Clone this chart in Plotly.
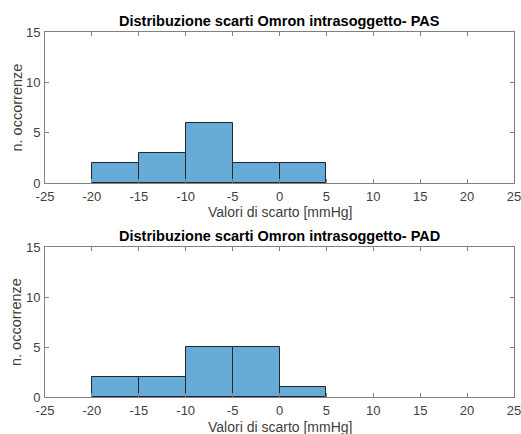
import plotly.graph_objects as go

# Bin edges shared by both histograms (mmHg)
bin_edges = [-20, -15, -10, -5, 0, 5]
# Occurrence counts per bin
pas_counts = [2, 3, 6, 2, 2]
pad_counts = [2, 2, 5, 5, 1]

titles = ["Distribuzione scarti Omron intrasoggetto- PAS",
          "Distribuzione scarti Omron intrasoggetto- PAD"]
x_title = "Valori di scarto [mmHg]"
y_title = "n. occorrenze"
x_ticks = [-25, -20, -15, -10, -5, 0, 5, 10, 15, 20, 25]
x_tick_labels = ["-25", "-20", "-15", "-10", "-5", "0", "5", "10", "15", "20", "25"]
y_ticks = [0, 5, 10, 15]

W, H = 521, 434
FONT = "Liberation Sans, Arial, sans-serif"
BAR_FILL = "rgb(102,170,215)"
AX_COL = "#404040"

centers = [(a + b) / 2 for a, b in zip(bin_edges[:-1], bin_edges[1:])]
widths = [b - a for a, b in zip(bin_edges[:-1], bin_edges[1:])]

# pixel boxes of the two axes: (left, right, top, bottom)
boxes = [(45, 514, 32, 183), (45, 514, 247, 397)]
# vertical centres of the title and x-label of each axes
title_y = [21, 236]
xlabel_y = [212, 427]

fig = go.Figure()
for i, counts in enumerate([pas_counts, pad_counts]):
    sfx = "" if i == 0 else str(i + 1)
    fig.add_trace(go.Bar(
        x=centers, y=counts, width=widths,
        marker=dict(color=BAR_FILL, line=dict(color="#262626", width=1)),
        xaxis="x" + sfx, yaxis="y" + sfx, showlegend=False,
        hoverinfo="x+y",
    ))

layout = dict(
    template="none",
    width=W, height=H, margin=dict(l=0, r=0, t=0, b=0, pad=0, autoexpand=False),
    paper_bgcolor="white", plot_bgcolor="white",
    font=dict(family=FONT, size=13, color=AX_COL),
    bargap=0,
)
annotations = []
for i, (l, r, t, b) in enumerate(boxes):
    sfx = "" if i == 0 else str(i + 1)
    common = dict(showline=True, linecolor="#808080", linewidth=1, mirror="ticks",
                  ticks="inside", ticklen=4, tickcolor="#808080", automargin=False,
                  showgrid=False, zeroline=False, fixedrange=True,
                  ticklabeloverflow="allow",
                  tickfont=dict(family=FONT, size=13, color=AX_COL))
    layout["xaxis" + sfx] = dict(common, domain=[l / W, r / W], range=[-25, 25],
                                 tickvals=x_ticks, ticktext=x_tick_labels,
                                 anchor="y" + sfx, ticklabelstandoff=1)
    layout["yaxis" + sfx] = dict(common, domain=[1 - b / H, 1 - t / H], range=[0, 15],
                                 tickvals=y_ticks, anchor="x" + sfx, ticklabelstandoff=1)
    mid = (l + r) / 2 / W
    annotations.append(dict(text="<b>" + titles[i] + "</b>", x=mid, y=1 - title_y[i] / H,
                            xref="paper", yref="paper", showarrow=False,
                            font=dict(family=FONT, size=14.5, color="black"),
                            xanchor="center", yanchor="middle"))
    annotations.append(dict(text=x_title, x=mid, y=1 - xlabel_y[i] / H,
                            xref="paper", yref="paper", showarrow=False,
                            font=dict(family=FONT, size=14, color=AX_COL),
                            xanchor="center", yanchor="middle"))
    annotations.append(dict(text=y_title, x=16 / W, y=1 - (t + b) / 2 / H,
                            xref="paper", yref="paper", showarrow=False, textangle=-90,
                            font=dict(family=FONT, size=14.5, color=AX_COL),
                            xanchor="center", yanchor="middle"))
layout["annotations"] = annotations
fig.update_layout(**layout)
fig.write_html("out.html")
